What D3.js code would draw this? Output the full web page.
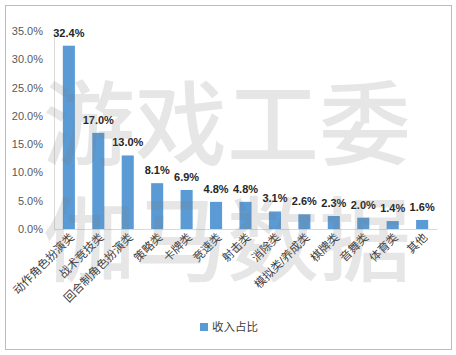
<!DOCTYPE html>
<html>
<head>
<meta charset="utf-8">
<script src="https://cdn.jsdelivr.net/npm/d3@7"></script>
<style>
  body { margin: 0; background: #fff; }
  svg { display: block; }
</style>
</head>
<body>
<div id="chart"></div>
<script>
// values
var categories = ["动作角色扮演类", "战术竞技类", "回合制角色扮演类", "策略类", "卡牌类", "竞速类",
  "射击类", "消除类", "模拟类/养成类", "棋牌类", "音舞类", "体育类", "其他"];
var shares = [32.4, 17.0, 13.0, 8.1, 6.9, 4.8, 4.8, 3.1, 2.6, 2.3, 2.0, 1.4, 1.6];
var yTicks = [0, 5, 10, 15, 20, 25, 30, 35];
var seriesName = "收入占比";
var watermark = ["游戏工委", "伽马数据"];

var width = 456, height = 355;
var margin = { top: 31, right: 19, bottom: 126, left: 54 };
var cjk = "'Liberation Sans', Arial, 'Noto Sans CJK SC', sans-serif";

var svg = d3.select("#chart").append("svg")
  .attr("width", width)
  .attr("height", height);

// outer frame
svg.append("rect")
  .attr("x", 5.5).attr("y", 5.5)
  .attr("width", 446).attr("height", 344)
  .attr("fill", "#fff")
  .attr("stroke", "#9dc3e6");

var x = d3.scaleBand()
  .domain(categories)
  .range([margin.left, width - margin.right])
  .paddingInner(0.59)
  .paddingOuter(0.3);

var y = d3.scaleLinear()
  .domain([0, 35])
  .range([height - margin.bottom, margin.top]);

// y axis
var yAxis = d3.axisLeft(y)
  .tickValues(yTicks)
  .tickSize(0)
  .tickPadding(11)
  .tickFormat(function (d) { return d.toFixed(1) + "%"; });

var gy = svg.append("g")
  .attr("transform", "translate(" + margin.left + ",0)")
  .call(yAxis);
gy.select(".domain").attr("stroke", "#d9d9d9");
gy.selectAll("text")
  .attr("font-family", cjk)
  .attr("font-size", 11)
  .attr("fill", "#595959");

// bars
svg.append("g")
  .selectAll("rect")
  .data(shares)
  .join("rect")
  .attr("x", function (d, i) { return x(categories[i]); })
  .attr("y", function (d) { return y(d); })
  .attr("width", x.bandwidth())
  .attr("height", function (d) { return y(0) - y(d); })
  .attr("fill", "#5b9bd5");

// x axis
var xAxis = d3.axisBottom(x).tickSize(0).tickFormat("");
var gx = svg.append("g")
  .attr("transform", "translate(0," + y(0) + ")")
  .call(xAxis);
gx.select(".domain").attr("stroke", "#d9d9d9");

svg.append("g")
  .selectAll("text")
  .data(categories)
  .join("text")
  .attr("transform", function (d) {
    return "translate(" + (x(d) + x.bandwidth() / 2 + 6) + "," + (y(0) + 9) + ") rotate(-45)";
  })
  .attr("text-anchor", "end")
  .attr("font-family", cjk)
  .attr("font-size", 11.5)
  .attr("fill", "#404040")
  .text(function (d) { return d; });

// data labels
svg.append("g")
  .selectAll("text")
  .data(shares)
  .join("text")
  .attr("x", function (d, i) { return x(categories[i]) + x.bandwidth() / 2; })
  .attr("y", function (d) { return y(d) - 9; })
  .attr("text-anchor", "middle")
  .attr("font-family", cjk)
  .attr("font-size", 11)
  .attr("font-weight", "bold")
  .attr("fill", "#262626")
  .text(function (d) { return d.toFixed(1) + "%"; });

// watermark on top
svg.append("g")
  .selectAll("text")
  .data(watermark)
  .join("text")
  .attr("x", 43)
  .attr("y", function (d, i) { return 158 + i * 116; })
  .attr("font-family", "'Noto Sans CJK SC', sans-serif")
  .attr("font-size", 92)
  .attr("font-weight", 500)
  .attr("fill", "#777")
  .attr("fill-opacity", 0.18)
  .text(function (d) { return d; });

// legend
var legend = svg.append("g").attr("transform", "translate(200,323)");
legend.append("rect")
  .attr("width", 8).attr("height", 8)
  .attr("fill", "#5b9bd5");
legend.append("text")
  .attr("x", 12).attr("y", 8)
  .attr("font-family", cjk)
  .attr("font-size", 11.5)
  .attr("fill", "#404040")
  .text(seriesName);
</script>
</body>
</html>
